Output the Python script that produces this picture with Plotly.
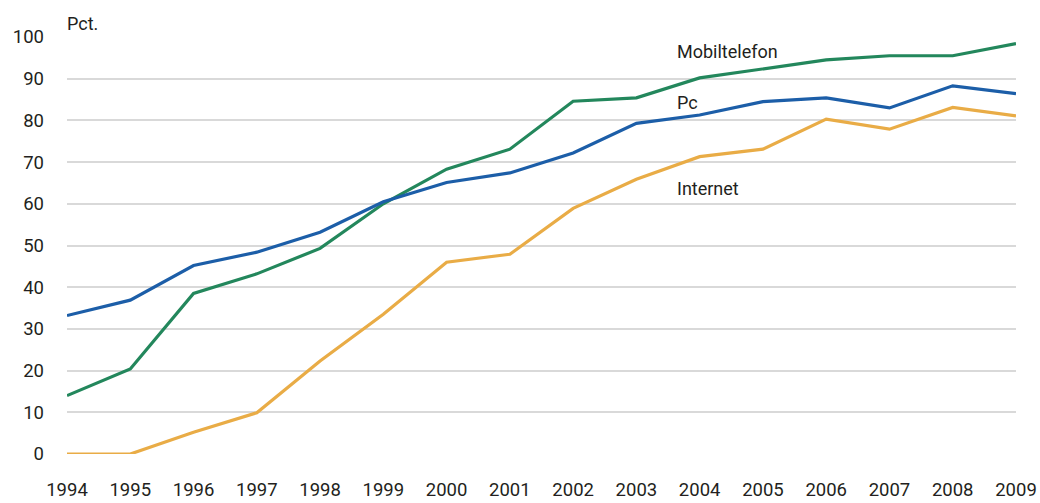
import plotly.graph_objects as go

years = list(range(1994, 2010))
mobiltelefon = [14.0, 20.4, 38.5, 43.2, 49.3, 60.0, 68.3, 73.1, 84.6, 85.4, 90.2, 92.3, 94.5, 95.5, 95.5, 98.4]
pc = [33.2, 36.9, 45.2, 48.4, 53.2, 60.5, 65.1, 67.4, 72.2, 79.3, 81.3, 84.5, 85.4, 83.0, 88.3, 86.4]
internet = [0, 0, 5.2, 9.9, 22.3, 33.5, 46.0, 47.9, 58.9, 65.9, 71.3, 73.1, 80.3, 77.9, 83.1, 81.1]

y_ticks = list(range(0, 101, 10))

text_color = "#231f20"
font_family = "Roboto, sans-serif"

fig = go.Figure()
series = [
    ("Mobiltelefon", mobiltelefon, "#23875c"),
    ("Pc", pc, "#1c5ea8"),
    ("Internet", internet, "#e9ac46"),
]
for name, vals, col in series:
    fig.add_trace(go.Scatter(x=years, y=vals, mode="lines", name=name,
                             line=dict(color=col, width=3.2), cliponaxis=False))

labels = [
    ("Mobiltelefon", 2004.0, 96.6),
    ("Pc", 2004.0, 84.4),
    ("Internet", 2004.0, 63.6),
]
for txt, x, y in labels:
    fig.add_annotation(x=x, y=y, text=txt, showarrow=False, xanchor="left",
                       yanchor="middle", xshift=-25,
                       font=dict(size=18, color=text_color, family=font_family))

fig.add_annotation(xref="paper", yref="paper", x=0, y=1.0, yshift=14, text="Pct.",
                   showarrow=False, xanchor="left", yanchor="middle", xshift=-2,
                   font=dict(size=18, color=text_color, family=font_family))

fig.update_layout(
    width=1040, height=503,
    margin=dict(l=67, r=24, t=37, b=49),
    plot_bgcolor="white", paper_bgcolor="white",
    showlegend=False,
    font=dict(family=font_family, size=18, color=text_color),
)
fig.update_xaxes(range=[1994, 2009], tickmode="array", tickvals=years,
                 ticktext=[str(y) for y in years], showgrid=False, zeroline=False,
                 showline=False, ticks="", ticklabelstandoff=22, automargin=False,
                 tickfont=dict(size=18.5, color=text_color))
fig.update_yaxes(range=[0, 100], tickmode="array", tickvals=y_ticks,
                 showgrid=True, gridcolor="#d9d9d9", gridwidth=2, zeroline=False,
                 showline=False, ticks="", ticklabelstandoff=22, automargin=False,
                 tickfont=dict(size=18.5, color=text_color))

fig.write_html("out.html", post_script="document.body.style.margin='0';",
               config={"displayModeBar": False})
